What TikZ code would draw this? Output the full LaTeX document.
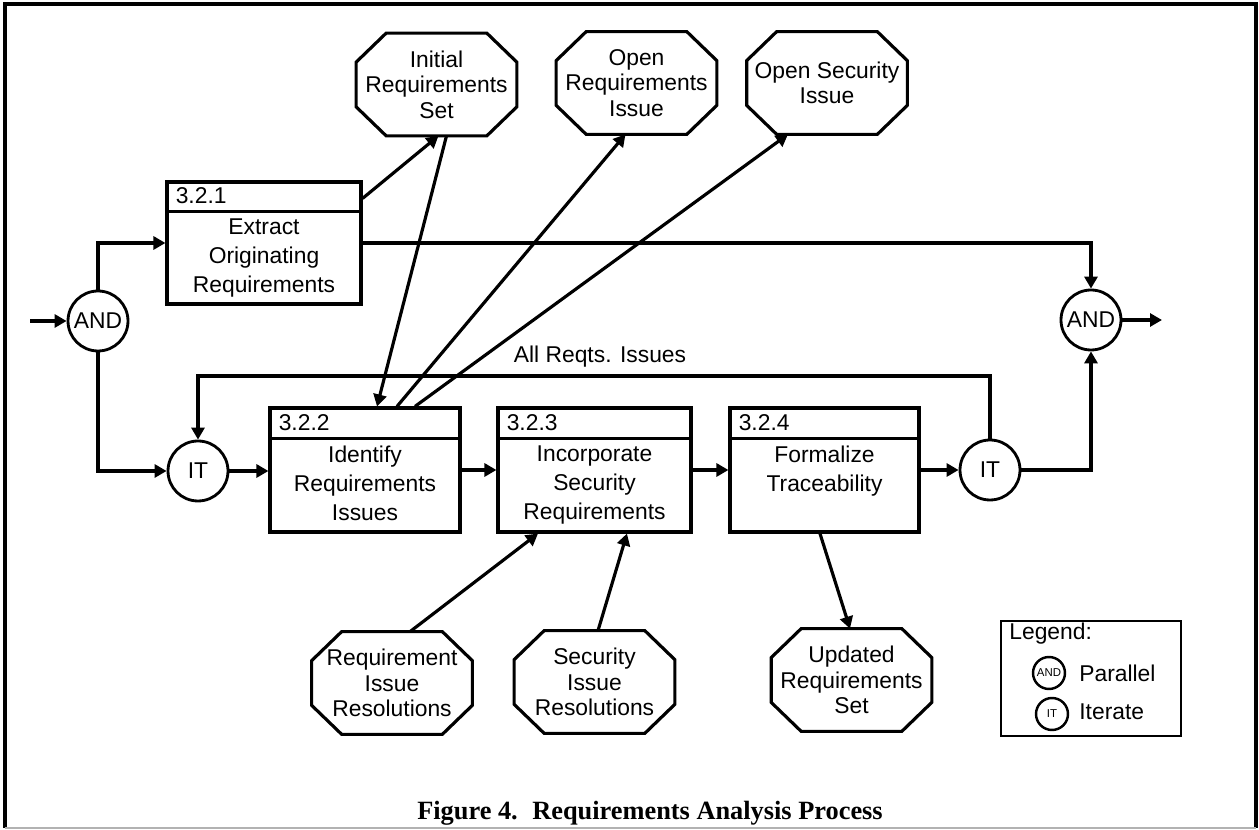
\documentclass[tikz,border=0pt]{standalone}
\usepackage{fontspec}
\setmainfont{Liberation Sans}
\newfontfamily\capfont{Liberation Serif}
\usetikzlibrary{arrows.meta,calc}
\tikzset{
  lw/.style={line width=1.8pt},
  arr/.style={line width=1.8pt, -{Triangle[length=0.24cm,width=0.26cm]}},
  procbox/.style={draw, line width=1.8pt, minimum height=2.48cm, inner sep=0pt},
  hdr/.style={anchor=west, inner sep=0pt, font=\fontsize{13}{16}\selectfont},
  body/.style={anchor=north, align=center, inner xsep=0pt, inner ysep=0.14cm, font=\fontsize{13}{16.5}\selectfont},
  octbox/.style={minimum width=3.2cm, minimum height=2.04cm, inner sep=0pt, align=center, font=\fontsize{13}{14.6}\selectfont},
  junc/.style={circle, draw, line width=1.6pt, minimum size=1.2cm, inner sep=0pt, font=\fontsize{13}{16}\selectfont},
  ljunc/.style={circle, draw, line width=1.4pt, minimum size=0.64cm, inner sep=0pt, font=\fontsize{6.5}{7}\selectfont},
  lbl/.style={inner sep=0pt, font=\fontsize{13}{16}\selectfont},
}
\newcommand\octpath[1]{%
  \draw[lw] ([xshift=0.6cm]#1.north west) -- ([xshift=-0.6cm]#1.north east)
    -- ([yshift=-0.58cm]#1.north east) -- ([yshift=0.58cm]#1.south east)
    -- ([xshift=-0.6cm]#1.south east) -- ([xshift=0.6cm]#1.south west)
    -- ([yshift=0.58cm]#1.south west) -- ([yshift=-0.58cm]#1.north west) -- cycle;}
\newcommand\divline[2]{\draw[lw] ([yshift=-#2]#1.north west) -- ([yshift=-#2]#1.north east);}
\begin{document}
\begin{tikzpicture}[x=0.02cm,y=-0.02cm]
\useasboundingbox (0,0) rectangle (1259,830);
% frame
\draw[line width=1.8pt] (5,828) -- (5,4) -- (1256,4) -- (1256,828);
\draw[line width=0.6pt, gray!60] (5,828) -- (1256,828);

% process boxes
\node[procbox, minimum width=3.88cm, minimum height=2.44cm] (b1) at (264,243) {};
\divline{b1}{0.62cm}
\node[hdr] at ([xshift=0.2cm,yshift=-0.31cm]b1.north west) {3.2.1};
\node[body] at ([yshift=-0.62cm]b1.north) {Extract\\Originating\\Requirements};

\node[procbox, minimum width=3.8cm] (b2) at (365,470) {};
\divline{b2}{0.64cm}
\node[hdr] at ([xshift=0.2cm,yshift=-0.32cm]b2.north west) {3.2.2};
\node[body] at ([yshift=-0.64cm]b2.north) {Identify\\Requirements\\Issues};

\node[procbox, minimum width=3.86cm] (b3) at (594.5,470) {};
\divline{b3}{0.64cm}
\node[hdr] at ([xshift=0.2cm,yshift=-0.32cm]b3.north west) {3.2.3};
\node[body] at ([yshift=-0.64cm]b3.north) {Incorporate\\Security\\Requirements};

\node[procbox, minimum width=3.78cm] (b4) at (824.5,470) {};
\divline{b4}{0.64cm}
\node[hdr] at ([xshift=0.2cm,yshift=-0.32cm]b4.north west) {3.2.4};
\node[body] at ([yshift=-0.64cm]b4.north) {Formalize\\Traceability};

% octagons
\node[octbox] (o1) at (436.5,84.5) {Initial\\Requirements\\Set}; \octpath{o1}
\node[octbox] (o2) at (636.5,83) {Open\\Requirements\\Issue}; \octpath{o2}
\node[octbox] (o3) at (827,83) {Open Security\\Issue}; \octpath{o3}
\node[octbox] (o4) at (392,683) {Requirement\\Issue\\Resolutions}; \octpath{o4}
\node[octbox] (o5) at (594.5,682) {Security\\Issue\\Resolutions}; \octpath{o5}
\node[octbox] (o6) at (851.5,680) {Updated\\Requirements\\Set}; \octpath{o6}

% junctions
\node[junc] (and1) at (98,321) {AND};
\node[junc] (it1) at (198,471) {IT};
\node[junc] (it2) at (990,470) {IT};
\node[junc] (and2) at (1091,320) {AND};
\coordinate (in) at (30,321);
\coordinate (out) at (1162,320);
\coordinate (fb) at (600,376);

% flow connectors
\draw[arr] (in) -- (and1.west);
\draw[arr] (and1.north) |- (b1.west);
\draw[arr] (and1.south) |- (it1.west);
\draw[arr] (it1.east) -- (it1.east -| b2.west);
\draw[arr] (b2.east |- b2.center) -- (b3.west |- b2.center);
\draw[arr] (b3.east) -- (b4.west);
\draw[arr] (b4.east) -- (it2.west);
\draw[arr] (it2.east) -| (and2.south);
\draw[arr] (b1.east) -| (and2.north);
\draw[arr] (and2.east) -- (out);
\draw[arr] (it2.north) -- (it2.north |- fb) -| (it1.north);
\node[lbl] at (600,357) {All Reqts. Issues};

% data connectors
\draw[arr] ([yshift=-0.36cm]b1.north east) -- ([xshift=0.04cm]o1.south);
\draw[arr] ([xshift=0.2cm]o1.south) -- ([xshift=0.24cm]b2.north);
\draw[arr] ([xshift=0.64cm]b2.north) -- ([xshift=-0.22cm]o2.south);
\draw[arr] ([xshift=1.0cm]b2.north) -- ([xshift=-0.78cm]o3.south);
\draw[arr] ([xshift=0.36cm]o4.north) -- ([xshift=-1.13cm]b3.south);
\draw[arr] ([xshift=0.07cm]o5.north) -- ([xshift=0.65cm]b3.south);
\draw[arr] ([xshift=-0.09cm]b4.south) -- ([xshift=-0.03cm]o6.north);

% legend
\node[draw, line width=1.6pt, minimum width=3.6cm, minimum height=2.3cm, inner sep=0pt] (leg) at (1091,678.5) {};
\node[lbl, anchor=west] at (1009,634) {Legend:};
\node[ljunc] (land) at (1049,673) {AND};
\node[ljunc] (lit) at (1052,714) {IT};
\node[lbl, anchor=west] at (1079,673) {Parallel};
\node[lbl, anchor=west] at (1079,712) {Iterate};

% caption
\node[inner sep=0pt, font=\capfont\bfseries\fontsize{15}{18}\selectfont] (cap) at (650,813) {Figure 4.\hspace{0.55em}Requirements Analysis Process};
\end{tikzpicture}
\end{document}
